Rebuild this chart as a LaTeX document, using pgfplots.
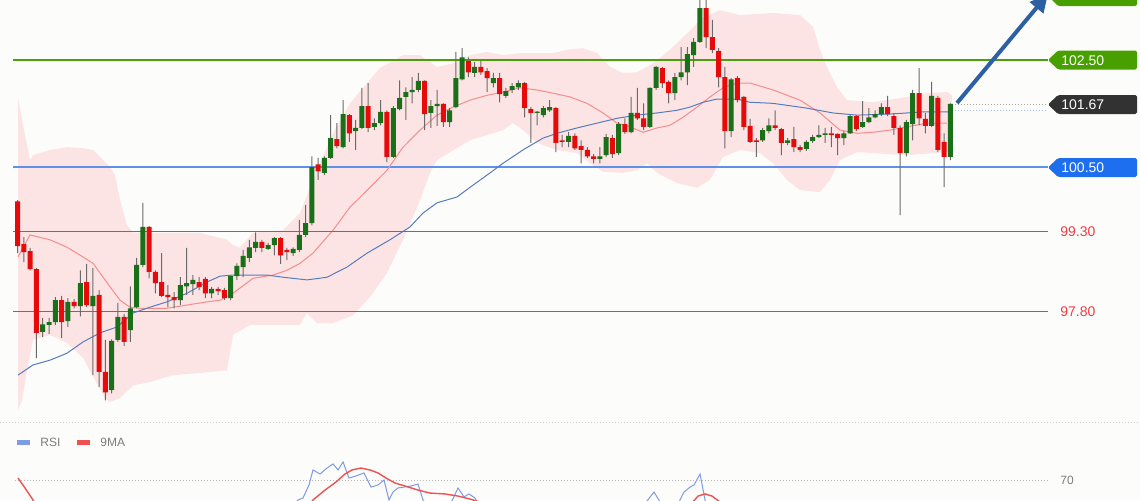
\documentclass[border=0pt]{standalone}
\usepackage{pgfplots}
\pgfplotsset{compat=1.18}
\usepackage{pgfplotstable}
\usetikzlibrary{arrows.meta}
\usepackage{fontspec}
\setmainfont{Liberation Sans}
\definecolor{bg}{RGB}{252,252,250}
\definecolor{bandpink}{RGB}{253,228,228}
\definecolor{midline}{RGB}{246,140,140}
\definecolor{maline}{RGB}{85,125,190}
\definecolor{cgreen}{RGB}{25,112,25}
\definecolor{cred}{RGB}{230,10,10}
\definecolor{wick}{RGB}{105,105,105}
\definecolor{levelgreen}{RGB}{75,160,10}
\definecolor{levelblue}{RGB}{95,145,235}
\definecolor{levelred}{RGB}{235,60,60}
\definecolor{boxgreen}{RGB}{72,160,0}
\definecolor{boxdark}{RGB}{50,50,50}
\definecolor{boxblue}{RGB}{30,110,240}
\definecolor{txtred}{RGB}{240,60,70}
\definecolor{arrowc}{RGB}{45,95,165}
\definecolor{rsiblue}{RGB}{125,155,230}
\definecolor{rsired}{RGB}{240,80,80}
\definecolor{txtgray}{RGB}{125,125,125}

\pgfplotsset{mainax/.style={at={(0pt,0pt)}, anchor=north west, scale only axis,
  width=570pt, height=210pt, xmin=-1.83, xmax=180.31, ymin=95.771, ymax=103.6215,
  hide axis, clip=true}}

\pgfplotstableread{
i o h l c
1 99.86 99.88 98.89 99.02
2 99.06 99.19 98.72 98.91
3 98.93 98.99 98.57 98.59
4 98.59 98.61 96.93 97.40
5 97.42 97.68 97.32 97.56
6 97.55 97.68 97.38 97.60
7 97.60 98.07 97.55 98.01
8 98.01 98.09 97.30 97.60
9 97.62 98.05 97.51 97.98
10 97.98 98.03 97.86 97.90
11 97.90 98.57 97.71 98.33
12 98.35 98.69 97.88 97.92
13 97.90 98.61 96.61 98.09
14 98.11 98.20 96.39 96.67
15 96.67 97.27 96.14 96.29
16 96.33 97.28 96.27 97.25
17 97.27 97.96 97.23 97.70
18 97.70 97.75 97.15 97.23
19 97.45 98.27 97.23 97.86
20 97.88 98.80 97.86 98.67
21 98.67 99.83 98.63 99.38
22 99.38 99.40 98.42 98.54
23 98.54 98.57 98.14 98.33
24 98.35 98.89 98.07 98.09
25 98.11 98.29 97.88 98.07
26 98.07 98.16 97.86 98.01
27 98.01 98.44 97.92 98.29
28 98.27 98.99 98.11 98.33
29 98.31 98.48 98.11 98.39
30 98.35 98.44 98.20 98.26
31 98.41 98.44 98.05 98.14
32 98.14 98.26 98.05 98.22
33 98.22 98.26 98.11 98.18
34 98.20 98.24 98.01 98.05
35 98.05 98.48 98.01 98.46
36 98.46 98.70 98.39 98.65
37 98.63 98.95 98.44 98.84
38 98.80 99.14 98.72 99.00
39 98.99 99.28 98.91 99.10
40 99.10 99.14 98.91 98.99
41 98.97 99.08 98.95 99.04
42 99.04 99.19 98.85 99.17
43 99.17 99.19 98.69 98.85
44 98.95 98.99 98.76 98.91
45 98.89 99.00 98.84 98.97
46 98.95 99.51 98.91 99.23
47 99.23 99.79 99.19 99.45
48 99.45 100.70 99.41 100.50
49 100.55 100.67 100.26 100.42
50 100.39 100.70 100.35 100.67
51 100.67 101.47 100.65 101.04
52 101.02 101.32 100.85 100.89
53 100.87 101.75 100.85 101.49
54 101.47 101.49 100.97 101.13
55 101.17 101.38 100.82 101.23
56 101.23 101.98 101.21 101.64
57 101.64 102.07 101.15 101.23
58 101.25 101.41 101.19 101.32
59 101.32 101.75 101.28 101.53
60 101.53 101.56 100.59 100.69
61 100.69 101.64 100.67 101.60
62 101.58 102.12 101.56 101.79
63 101.81 101.99 101.38 101.90
64 101.90 102.18 101.69 101.94
65 101.94 102.26 101.90 102.11
66 102.11 102.12 101.19 101.49
67 101.51 101.75 101.23 101.64
68 101.64 101.94 101.27 101.68
69 101.68 101.69 101.25 101.34
70 101.34 101.60 101.25 101.56
71 101.62 102.65 101.60 102.16
72 102.14 102.72 102.12 102.55
73 102.48 102.55 102.18 102.27
74 102.26 102.46 102.18 102.37
75 102.37 102.48 102.22 102.27
76 102.29 102.35 101.90 102.16
77 102.07 102.26 101.99 102.16
78 102.16 102.26 101.71 101.86
79 101.83 101.98 101.79 101.92
80 101.94 102.07 101.88 102.01
81 101.99 102.12 101.94 102.07
82 102.07 102.09 101.43 101.60
83 101.58 101.62 100.95 101.51
84 101.51 101.55 101.28 101.53
85 101.47 101.64 101.43 101.60
86 101.56 101.75 101.53 101.62
87 101.60 101.62 100.78 100.95
88 101.00 101.10 100.87 100.97
89 100.97 101.15 100.87 101.08
90 101.08 101.13 100.82 100.85
91 100.89 101.00 100.57 100.82
92 100.82 100.87 100.67 100.70
93 100.70 100.74 100.57 100.65
94 100.65 100.87 100.57 100.70
95 100.72 101.12 100.69 101.06
96 101.04 101.10 100.67 100.74
97 100.76 101.34 100.72 101.30
98 101.30 101.41 101.12 101.15
99 101.15 101.81 101.13 101.51
100 101.51 101.98 101.38 101.41
101 101.41 101.69 101.19 101.25
102 101.25 101.99 101.23 101.98
103 101.98 102.39 101.94 102.37
104 102.35 102.37 101.98 102.07
105 102.09 102.12 101.69 101.88
106 101.88 102.26 101.75 102.18
107 102.18 102.74 102.12 102.27
108 102.27 102.74 102.03 102.61
109 102.59 102.91 102.37 102.84
110 102.84 103.70 102.82 103.47
111 103.47 103.70 102.72 102.93
112 102.93 103.25 102.63 102.69
113 102.67 102.72 101.99 102.18
114 102.18 102.37 100.85 101.17
115 101.17 102.16 101.06 102.14
116 102.16 102.20 101.71 101.75
117 101.81 101.83 101.19 101.25
118 101.27 101.40 100.95 100.97
119 101.00 101.04 100.69 100.97
120 101.00 101.23 100.97 101.19
121 101.17 101.41 101.13 101.28
122 101.28 101.56 101.19 101.23
123 101.21 101.23 100.72 100.95
124 100.95 101.04 100.91 101.00
125 101.02 101.25 100.78 100.87
126 100.87 100.91 100.78 100.82
127 100.84 101.00 100.80 100.97
128 100.99 101.10 100.95 101.06
129 101.06 101.28 101.04 101.10
130 101.10 101.23 100.95 101.13
131 101.13 101.25 100.87 101.10
132 101.12 101.13 100.72 101.04
133 101.04 101.17 100.91 101.13
134 101.13 101.47 101.12 101.45
135 101.45 101.47 101.17 101.21
136 101.25 101.73 101.23 101.34
137 101.34 101.60 101.32 101.43
138 101.43 101.56 101.41 101.49
139 101.49 101.69 101.45 101.62
140 101.62 101.83 101.45 101.49
141 101.45 101.51 101.10 101.23
142 101.23 101.28 99.60 100.76
143 100.76 101.38 100.70 101.34
144 101.30 101.94 101.00 101.88
145 101.88 102.35 101.28 101.41
146 101.40 101.51 101.13 101.27
147 101.27 102.09 101.25 101.83
148 101.79 101.83 100.78 100.82
149 100.97 101.13 100.13 100.69
150 100.69 101.69 100.63 101.68
}\candles

\begin{document}
\begin{tikzpicture}
\fill[bg] (0pt,-250pt) rectangle (570pt,0pt);

% ---- band, lines
\begin{axis}[mainax]
\addplot[fill=bandpink, draw=none] coordinates {
(1.05,101.79) (1.69,101.38) (2.97,100.63) (3.44,100.72) (6.16,100.82) (8.88,100.87)
(11.43,100.85) (13.03,100.82) (14.15,100.69) (15.75,100.50) (16.55,100.35) (17.35,99.88)
(18.47,99.41) (19.42,99.28) (20.54,99.27) (23.73,99.27) (30.12,99.27) (34.44,99.14) (35.40,99.04)
(36.52,98.99) (38.59,99.27) (43.39,99.32) (46.10,99.64) (48.82,100.44) (51.38,101.13)
(54.09,101.69) (56.81,102.07) (58.88,102.35) (62.56,102.59) (65.28,102.59) (67.99,102.37)
(70.55,102.44) (73.26,102.59) (75.98,102.65) (78.54,102.59) (81.25,102.63) (86.53,102.63)
(89.24,102.70) (91.32,102.72) (93.56,102.63) (95.63,102.37) (97.71,102.26) (99.95,102.27)
(102.50,102.44) (105.22,102.69) (107.94,103.00) (110.49,103.30) (113.21,103.43) (116.40,103.34)
(121.68,103.38) (125.99,103.34) (128.06,103.12) (129.18,102.69) (130.30,102.37) (131.90,101.99)
(133.50,101.75) (137.65,101.71) (143.09,101.81) (146.28,101.88) (149.47,101.90) (150.27,101.84)
(150.27,100.78) (149.47,100.78) (143.09,100.72) (137.65,100.76) (135.10,100.78) (132.38,100.63)
(130.78,100.26) (129.18,100.03) (125.99,100.07) (123.91,100.26) (121.68,100.57) (119.60,100.76)
(116.40,100.82) (113.69,100.69) (111.61,100.26) (109.53,100.11) (106.34,100.20) (103.14,100.39)
(101.54,100.57) (99.95,100.44) (97.71,100.39) (94.52,100.41) (92.44,100.57) (90.36,100.76)
(87.16,100.82) (83.97,100.95) (81.73,101.19) (80.13,101.32) (78.54,101.19) (73.26,101.00)
(67.99,100.63) (66.87,100.39) (65.28,99.88) (62.56,99.14) (60.00,98.52) (57.29,98.07)
(54.57,97.73) (51.38,97.58) (48.82,97.58) (47.22,97.77) (46.10,97.55) (38.12,97.55)
(35.40,97.36) (34.44,96.70) (30.12,96.65) (25.81,96.61) (22.14,96.48) (19.42,96.42)
(17.35,96.18) (15.75,96.11) (14.95,96.18) (13.35,96.52) (11.43,96.93) (8.88,97.21)
(6.16,97.36) (3.44,97.27) (2.49,96.70) (1.69,96.14) (1.05,95.96)} -- cycle;

% level lines
\addplot[color=levelgreen, line width=1pt] coordinates {(0.25,102.50) (165.61,102.50)};
\addplot[color=levelblue, line width=1pt] coordinates {(0.25,100.50) (165.61,100.50)};
\addplot[color=gray!70, line width=0.5pt, dash pattern=on 0.5pt off 1pt] coordinates {(150.75,101.67) (165.61,101.67)};
\addplot[color=levelblue!60, line width=0.5pt, dash pattern=on 0.5pt off 1pt] coordinates {(150.75,101.55) (165.61,101.55)};

% middle band (20 MA)
\addplot[color=midline, line width=0.5pt] coordinates {
(1.05,98.82) (2.97,99.23) (6.16,99.14) (8.88,99.00) (11.43,98.82) (13.03,98.70)
(14.15,98.52) (15.75,98.26) (17.35,98.01) (18.94,97.88) (20.54,97.86) (24.85,97.86)
(28.05,97.92) (31.24,97.98) (33.32,98.01) (35.40,98.14) (38.59,98.42) (41.79,98.48)
(44.03,98.57) (46.10,98.70) (48.18,98.89) (51.38,99.32) (54.09,99.75) (57.29,100.12)
(60.00,100.44) (62.56,100.87) (65.28,101.19) (67.99,101.47) (70.55,101.62) (73.26,101.75)
(75.98,101.84) (78.54,101.90) (81.25,101.98) (83.97,101.94) (86.53,101.88) (89.24,101.81)
(91.96,101.69) (94.52,101.51) (96.75,101.32) (98.83,101.25) (100.90,101.15) (103.14,101.23)
(105.22,101.28) (107.30,101.43) (109.53,101.62) (111.61,101.81) (113.69,101.98) (115.92,102.07)
(118.00,102.07) (121.68,101.94) (125.99,101.75) (129.18,101.51) (132.38,101.19) (135.10,101.13)
(137.65,101.15) (140.37,101.19) (143.09,101.25) (146.28,101.32) (149.47,101.32)};
% long MA
\addplot[color=maline, line width=0.5pt] coordinates {
(1.05,96.61) (3.44,96.80) (6.16,96.89) (8.88,97.02) (11.43,97.23) (14.15,97.40)
(16.87,97.51) (19.42,97.77) (22.14,97.88) (24.85,97.98) (28.05,98.14) (31.24,98.35)
(33.32,98.46) (35.40,98.48) (40.83,98.48) (43.39,98.44) (47.22,98.39) (50.42,98.44)
(53.61,98.63) (56.81,98.89) (60.48,99.14) (63.68,99.38) (65.76,99.64) (67.99,99.83)
(71.19,99.94) (73.26,100.12) (76.46,100.39) (78.54,100.57) (81.73,100.82) (84.93,101.04)
(87.16,101.13) (90.36,101.23) (93.56,101.32) (96.75,101.41) (99.95,101.47) (103.14,101.51)
(106.34,101.56) (108.42,101.62) (110.49,101.71) (112.73,101.77) (115.92,101.77) (118.00,101.71)
(121.68,101.69) (127.11,101.60) (131.26,101.51) (135.10,101.47) (140.37,101.49) (145.64,101.53)
(149.95,101.53)};
% red support lines (drawn last in this layer)
\addplot[draw={rgb,255:red,235;green,60;blue,60}, line width=0.55pt] coordinates {(0.25,99.30) (165.61,99.30)};
\addplot[draw={rgb,255:red,235;green,60;blue,60}, line width=0.55pt] coordinates {(0.25,97.80) (165.61,97.80)};
\end{axis}

% ---- wicks: stacked bars low -> high
\begin{axis}[mainax, ybar stacked, bar width=0.5pt]
\addplot[draw=none, fill=none] table[x=i, y=l] {\candles};
\addplot[draw=none, fill=wick] table[x=i, y expr=\thisrow{h}-\thisrow{l}] {\candles};
\end{axis}

% ---- bodies: green when close >= open, red otherwise
\begin{axis}[mainax, ybar stacked, bar width=2.5pt]
\addplot[draw=none, fill=none] table[x=i, y expr={min(\thisrow{o},\thisrow{c})}] {\candles};
\addplot[draw=none, fill=cgreen] table[x=i, y expr={(\thisrow{c}>=\thisrow{o})*max(abs(\thisrow{c}-\thisrow{o}),0.025)}] {\candles};
\addplot[draw=none, fill=cred] table[x=i, y expr={(\thisrow{c}<\thisrow{o})*max(abs(\thisrow{c}-\thisrow{o}),0.025)}] {\candles};
\end{axis}

% ---- RSI panel
\begin{axis}[at={(0pt,-210pt)}, anchor=north west, scale only axis,
  width=570pt, height=40pt, xmin=-1.83, xmax=180.31, ymin=56.667, ymax=110,
  hide axis, clip=true]
\addplot[color=gray!55, line width=0.5pt, dash pattern=on 0.5pt off 1pt] coordinates {(0.5,70) (165.5,70)};
\addplot[color=rsiblue, line width=0.5pt] coordinates {
(44.51,50) (45.78,56.7) (46.58,58.0) (47.54,66.7) (48.18,76.7) (49.30,74.0) (50.42,78.0)
(51.38,80.7) (52.18,76.7) (52.98,82.0) (53.93,71.3) (55.05,72.7) (56.33,74.7) (57.45,65.3)
(58.57,66.7) (59.52,70.0) (60.32,56.7) (60.96,62.0) (61.76,64.7) (62.72,65.3) (63.84,66.0)
(64.96,67.3) (65.76,56.7) (66.87,50) (70.07,53.3) (71.35,64.7) (72.30,58.7) (73.10,60.7)
(74.06,58.0) (75.02,50) (100.42,50) (102.66,62.0) (103.94,53.3) (106.02,50) (107.46,62.0)
(108.42,65.3) (109.06,66.7) (110.02,74.0) (110.81,56.7) (111.29,50)};
\addplot[color=rsired, line width=0.7pt] coordinates {
(1.05,71.3) (2.17,64.7) (3.44,56.7) (4.24,50)};
\addplot[color=rsired, line width=0.7pt] coordinates {
(46.9,50) (48.18,56.7) (50.1,63.3) (51.86,68.7) (53.29,74.0) (54.41,76.7) (55.85,78.0)
(57.29,76.7) (58.57,74.7) (59.85,71.3) (61.28,68.0) (62.88,66.0) (64.96,63.3) (66.87,61.3)
(69.27,60.7) (71.35,59.3) (73.26,57.3) (74.86,55.3)};
\addplot[color=rsired, line width=0.7pt] coordinates {
(108.42,53.3) (109.70,59.3) (110.81,60.7) (111.93,59.3) (113.21,55.3)};
\end{axis}

\begin{scope}[x=0.5pt,y=-0.5pt]
\clip (0,0) rectangle (1140,500);
% separator
\draw[gray!35, line width=0.5pt, dash pattern=on 0.5pt off 1pt] (0,422) -- (1140,422);
% label boxes
\fill[boxgreen, rounded corners=0.8pt] (1048,-4) -- (1058,-14) -- (1137,-14) -- (1137,6) -- (1058,6) -- cycle;
\fill[boxgreen, rounded corners=0.8pt] (1048,60) -- (1058,50.5) -- (1137,50.5) -- (1137,69.5) -- (1058,69.5) -- cycle;
\node[anchor=west, text=white, inner sep=0, font=\fontsize{7pt}{8pt}\selectfont] at (1061,60.5) {102.50};
\fill[boxdark, rounded corners=0.8pt] (1048,104.5) -- (1058,95) -- (1137,95) -- (1137,114) -- (1058,114) -- cycle;
\node[anchor=west, text=white, inner sep=0, font=\fontsize{7pt}{8pt}\selectfont] at (1061,105) {101.67};
\fill[boxblue, rounded corners=0.8pt] (1048,167.5) -- (1058,158) -- (1137,158) -- (1137,177) -- (1058,177) -- cycle;
\node[anchor=west, text=white, inner sep=0, font=\fontsize{7pt}{8pt}\selectfont] at (1061,168) {100.50};
\node[anchor=west, text=txtred, inner sep=0, font=\fontsize{7pt}{8pt}\selectfont] at (1060,231.5) {99.30};
\node[anchor=west, text=txtred, inner sep=0, font=\fontsize{7pt}{8pt}\selectfont] at (1060,311.5) {97.80};
% arrow
\draw[arrowc, line width=2pt, -{Triangle[length=9pt,width=8.5pt]}] (957,103) -- (1048,-6);
% RSI legend
\fill[rsiblue] (17,439.5) rectangle (30,444.5);
\node[anchor=west, text=txtgray, inner sep=0, font=\fontsize{6pt}{7pt}\selectfont] at (40,442) {RSI};
\fill[rsired] (77,439.5) rectangle (90,444.5);
\node[anchor=west, text=txtgray, inner sep=0, font=\fontsize{6pt}{7pt}\selectfont] at (100,442) {9MA};
\node[anchor=west, text=txtgray, inner sep=0, font=\fontsize{6pt}{7pt}\selectfont] at (1060,480) {70};
\end{scope}
\pgfresetboundingbox
\useasboundingbox (0pt,-250pt) rectangle (570pt,0pt);
\end{tikzpicture}
\end{document}
